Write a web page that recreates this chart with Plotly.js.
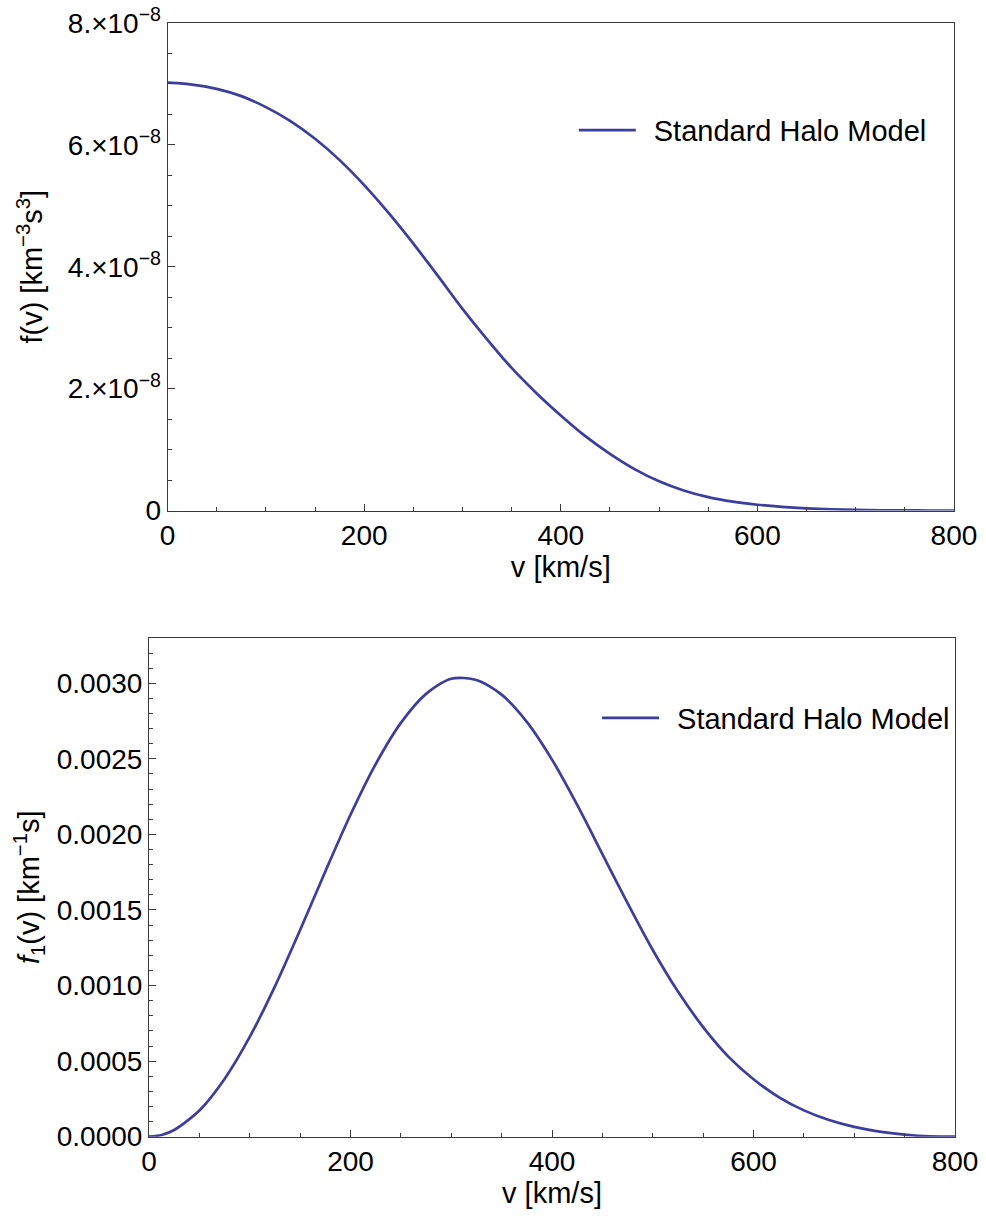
<!DOCTYPE html>
<html>
<head>
<meta charset="utf-8">
<script src="https://cdn.plot.ly/plotly-3.0.1.min.js"></script>
<style>html,body{margin:0;padding:0;background:#fff;}#chart{width:986px;height:1217px;}</style>
</head>
<body>
<div id="chart"></div>
<script>
// ---- data ----
const vSpeed = [0,12.5,25,50,75,100,125,150,175,200,225,250,275,300,325,350,375,400,425,450,475,500,525,550,575,600,625,650,675,700,725,750,775,800];
const fHalo = [7.02e-8,7.01e-8,6.99e-8,6.92e-8,6.80e-8,6.62e-8,6.39e-8,6.10e-8,5.75e-8,5.34e-8,4.88e-8,4.38e-8,3.85e-8,3.31e-8,2.81e-8,2.34e-8,1.93e-8,1.56e-8,1.22e-8,0.93e-8,0.68e-8,0.48e-8,0.33e-8,0.22e-8,0.145e-8,0.095e-8,0.060e-8,0.036e-8,0.021e-8,0.011e-8,0.005e-8,0.002e-8,0.0003e-8,0];
const f1Halo = [0,0.000011,0.000044,0.000173,0.000382,0.000660,0.000995,0.001368,0.001755,0.002130,0.002465,0.002738,0.002930,0.003030,0.003022,0.002925,0.002745,0.002495,0.002195,0.001870,0.001545,0.001235,0.000960,0.000725,0.000530,0.000380,0.000262,0.000174,0.000110,0.000065,0.000034,0.000014,0.000002,0];
const seriesName = "Standard Halo Model";
const topTickVals = [0,2e-8,4e-8,6e-8,8e-8];
const topTickText = ["0","2.×10<sup>−8</sup>","4.×10<sup>−8</sup>","6.×10<sup>−8</sup>","8.×10<sup>−8</sup>"];
const xTickVals = [0,200,400,600,800];

// ---- styling ----
const FONT = "Liberation Sans, Arial, sans-serif";
const lineColor = "#3d3d9b";
const axisColor = "#3a3a3a";
const tickFont = {family: FONT, size: 28, color: "#000"};
const titleFont = {family: FONT, size: 29, color: "#000"};

function xAxis(anchor, domain) {
  return {
    domain: domain, anchor: anchor, range: [0, 800],
    tickvals: xTickVals, ticks: "inside", ticklen: 7, tickcolor: axisColor,
    minor: {dtick: 50, ticks: "inside", ticklen: 4, tickcolor: axisColor, showgrid: false},
    showline: true, linecolor: axisColor, linewidth: 1, mirror: true,
    showgrid: false, zeroline: false, tickfont: tickFont,
    title: {text: "v [km/s]", font: titleFont, standoff: 6}
  };
}

const traces = [
  {x: vSpeed, y: fHalo, xaxis: "x", yaxis: "y", type: "scatter", mode: "lines",
   name: seriesName, legend: "legend",
   line: {color: lineColor, width: 2.7, shape: "spline", smoothing: 0.8}},
  {x: vSpeed, y: f1Halo, xaxis: "x2", yaxis: "y2", type: "scatter", mode: "lines",
   name: seriesName, legend: "legend2",
   line: {color: lineColor, width: 2.7, shape: "spline", smoothing: 0.8}}
];

const legendFont = {family: FONT, size: 29, color: "#000"};
const layout = {
  width: 986, height: 1217,
  margin: {l: 0, r: 0, t: 0, b: 0},
  paper_bgcolor: "#fff", plot_bgcolor: "#fff",
  showlegend: true,
  xaxis: xAxis("y", [0.170, 0.9675]),
  yaxis: {
    domain: [0.5805, 0.9811], anchor: "x", range: [0, 8e-8],
    tickvals: topTickVals, ticktext: topTickText,
    ticks: "inside", ticklen: 7, tickcolor: axisColor,
    minor: {dtick: 0.5e-8, ticks: "inside", ticklen: 4, tickcolor: axisColor, showgrid: false},
    showline: true, linecolor: axisColor, linewidth: 1, mirror: true,
    showgrid: false, zeroline: false, tickfont: tickFont,
    title: {text: "f(v) [km<sup>−3</sup>s<sup>3</sup>]", font: titleFont, standoff: 16}
  },
  xaxis2: xAxis("y2", [0.1511, 0.9686]),
  yaxis2: {
    domain: [0.066, 0.4758], anchor: "x2", range: [0, 0.0033],
    dtick: 0.0005, tick0: 0, tickformat: ".4f",
    ticks: "inside", ticklen: 7, tickcolor: axisColor,
    minor: {dtick: 0.0001, ticks: "inside", ticklen: 4, tickcolor: axisColor, showgrid: false},
    showline: true, linecolor: axisColor, linewidth: 1, mirror: true,
    showgrid: false, zeroline: false, tickfont: tickFont,
    title: {text: "<i>f</i><sub>1</sub>(v) [km<sup>−1</sup>s]", font: titleFont, standoff: 8}
  },
  legend: {x: 0.945, xanchor: "right", y: 0.893, yanchor: "middle", itemwidth: 70,
           bgcolor: "rgba(0,0,0,0)", font: legendFont},
  legend2: {x: 0.9686, xanchor: "right", y: 0.41, yanchor: "middle", itemwidth: 70,
            bgcolor: "rgba(0,0,0,0)", font: legendFont}
};

function stretchLegendLines() {
  document.querySelectorAll("#chart .legendlines path").forEach(function (p) {
    p.setAttribute("d", "M5,0h57");
  });
}

Plotly.newPlot("chart", traces, layout, {displayModeBar: false, staticPlot: true}).then(stretchLegendLines);
stretchLegendLines();
</script>
</body>
</html>
